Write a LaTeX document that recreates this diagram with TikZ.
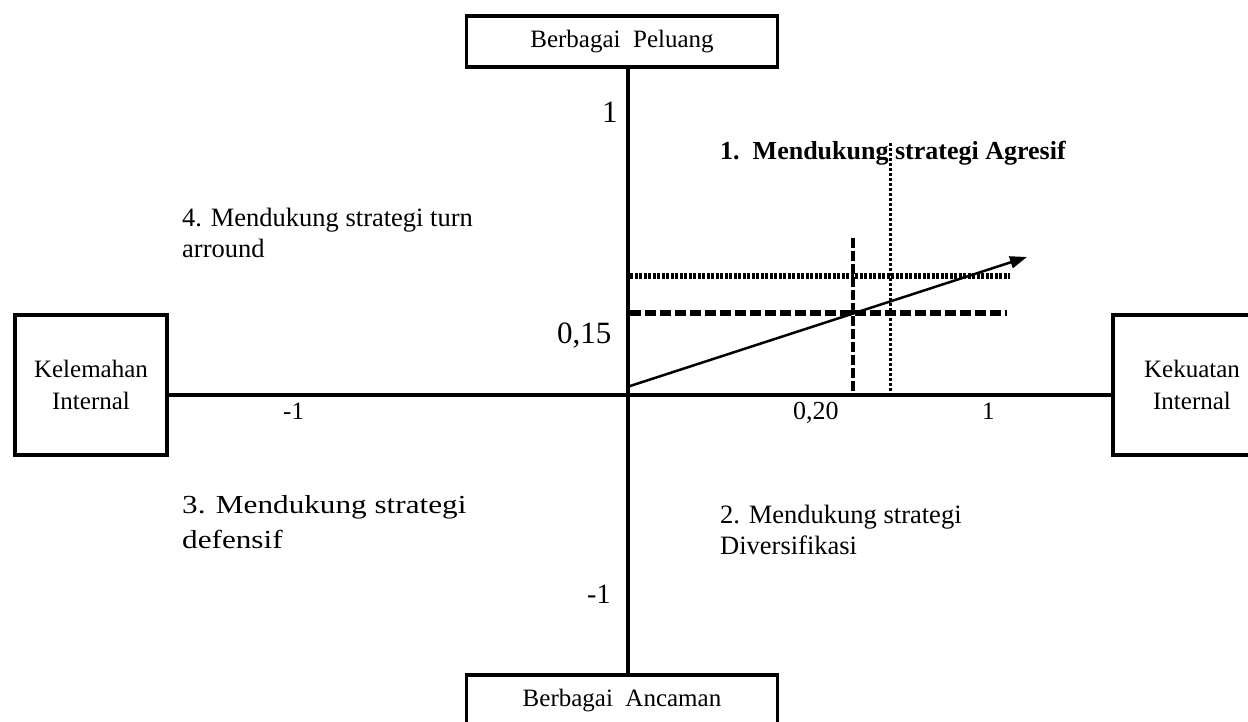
\documentclass[tikz,border=0pt]{standalone}
\usepackage{fontspec}
\setmainfont{Liberation Serif}
\newfontfamily\widefont[FakeStretch=1.2]{Liberation Serif}
\usetikzlibrary{arrows.meta}
\tikzset{
  box/.style={draw, line width=3.3pt, inner sep=0pt, align=center,
    font=\fontsize{25}{32}\selectfont},
  axisline/.style={line width=3.3pt},
  lbl/.style={anchor=base west, inner sep=0pt, font=\fontsize{26.5}{32}\selectfont},
  ticklbl/.style={anchor=base west, inner sep=0pt, font=\fontsize{25}{30}\selectfont},
  dotsline/.style={line width=6pt, dash pattern=on 3pt off 1.5pt},
  dashline/.style={line width=6pt, dash pattern=on 11pt off 4pt},
  vdashline/.style={line width=3.5pt, dash pattern=on 10pt off 3pt},
  vdotline/.style={line width=3pt, dash pattern=on 2.5pt off 2.5pt},
  vec/.style={line width=2.5pt, -{Triangle[length=17pt,width=12pt]}}
}
\begin{document}
\begin{tikzpicture}[x=1pt,y=-1pt]
\useasboundingbox (0,0) rectangle (1248,721);
\clip (0,0) rectangle (1248,721);
\fill[white] (0,0) rectangle (1248,721);

% boxes
\node[box, minimum width=311pt, minimum height=51pt] (peluang) at (622,41.5) {Berbagai\ \ Peluang};
\node[box, minimum width=311pt, minimum height=51pt] (ancaman) at (622,700.5) {Berbagai\ \ Ancaman};
\node[box, minimum width=152pt, minimum height=140pt] (kelemahan) at (91,385) {Kelemahan\\Internal};
\node[box, minimum width=158pt, minimum height=140pt] (kekuatan) at (1192,385) {Kekuatan\\Internal};

% axes
\coordinate (O) at (628,395);
\draw[axisline] (O |- peluang.south) -- (O |- ancaman.north);
\draw[axisline] (kelemahan.east |- O) -- (kekuatan.west |- O);

% tick labels
\node[ticklbl, font=\fontsize{31}{32}\selectfont] (y1) at (602,122) {1};
\node[ticklbl, font=\fontsize{31}{32}\selectfont] (y015) at (557,343) {0,15};
\node[ticklbl, font=\fontsize{28}{32}\selectfont] (ym1) at (587,603) {-1};
\node[ticklbl] (xm1) at (283,419) {-1};
\node[ticklbl, font=\fontsize{26}{30}\selectfont] (x020) at (793,419) {0,20};
\node[ticklbl] (x1) at (982,419) {1};

% guide lines
\coordinate (h1a) at (630,276); \coordinate (h1b) at (1010,276);
\coordinate (h2a) at (630,313); \coordinate (h2b) at (1007,313);
\coordinate (v1a) at (853,238); \coordinate (v1b) at (853,395);
\coordinate (v2a) at (890,143); \coordinate (v2b) at (890,395);
\draw[dotsline] (h1a) -- (h1b);
\draw[dashline] (h2a) -- (h2b);
\draw[vdashline] (v1a) -- (v1b);
\draw[vdotline] (v2a) -- (v2b);

% quadrant labels
\node[lbl, font=\bfseries\fontsize{26}{32}\selectfont] (q1) at (720,159) {1.\ \ Mendukung strategi Agresif};
\node[lbl] (q4a) at (182,226) {4. Mendukung strategi turn};
\node[lbl] (q4b) at (182,257) {arround};
\node[lbl, font=\widefont\fontsize{26}{32}\selectfont] (q3a) at (182,513) {3. Mendukung strategi};
\node[lbl, font=\widefont\fontsize{26}{32}\selectfont] (q3b) at (182,548) {defensif};
\node[lbl] (q2a) at (720,523) {2. Mendukung strategi};
\node[lbl] (q2b) at (720,554) {Diversifikasi};

% vector
\coordinate (vs) at (627,387);
\coordinate (ve) at (1027,257);
\draw[vec] (vs) -- (ve);
\end{tikzpicture}
\end{document}
